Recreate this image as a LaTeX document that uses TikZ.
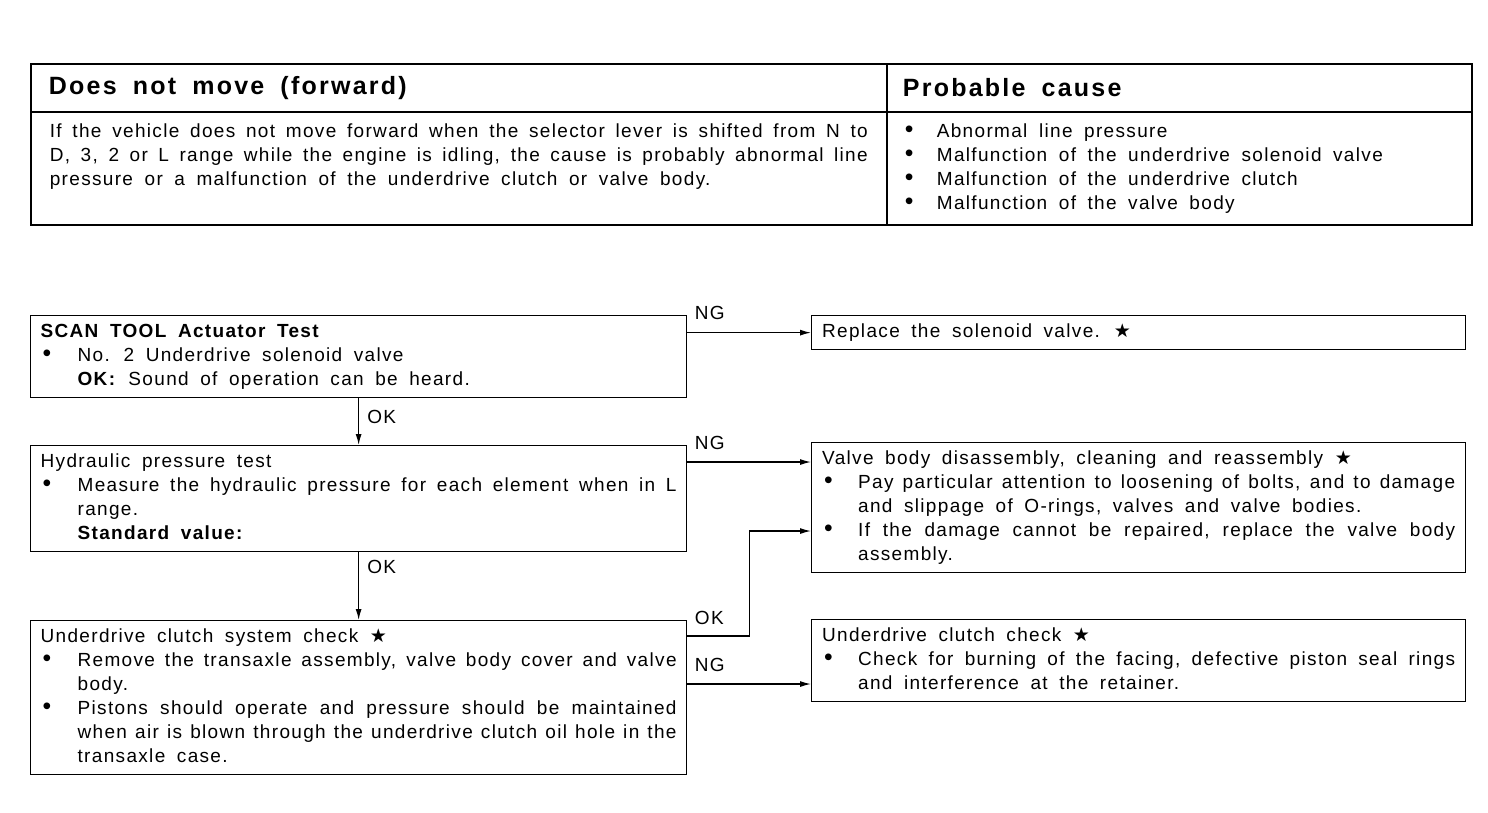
\documentclass[tikz,border=0pt]{standalone}
\usepackage{fontspec}
\setmainfont{Liberation Sans}[LetterSpace=7, WordSpace=1.75]
\newfontfamily\symfont{DejaVu Sans}
\usetikzlibrary{calc,arrows.meta,positioning}

\newcommand{\bodyfont}{\fontsize{19}{24}\selectfont}
\newcommand{\headfont}{\fontsize{25}{28}\selectfont\bfseries\addfontfeatures{LetterSpace=9}}
\newcommand{\bstar}{{\symfont ★}}
\newlength{\bulw}
\setlength{\bulw}{37pt}
% justified lines, full width or behind a bullet
\newcommand{\jf}[1]{\makebox[\linewidth][s]{#1}}
\newcommand{\jl}[1]{\makebox[\dimexpr\linewidth-\bulw][s]{#1}}
\newcommand{\bul}{\par\hangindent=\bulw\hangafter=1\noindent\makebox[\bulw][l]{\hspace{2pt}\scalebox{1.3}{\textbullet}}}

\begin{document}
\begin{tikzpicture}[x=1pt, y=-1pt,
    cell/.style={draw, line width=1.7pt, anchor=north west, inner sep=0pt},
    flowbox/.style={draw, line width=1.3pt, anchor=north west, inner xsep=10pt, inner ysep=5pt, font=\bodyfont},
    flow/.style={line width=1.3pt, -{Latex[length=11pt,width=6pt]}},
    lbl/.style={font=\bodyfont, inner sep=2pt}]

    \useasboundingbox (0,0) rectangle (1488,812);

    % Table: symptom and probable cause
    \node[cell, minimum width=856pt, minimum height=48pt] (hdL) at (30,63)
        {\parbox{820pt}{\headfont Does not move (forward)}};
    \node[cell, minimum width=585pt, minimum height=48pt] (hdR) at (886,63)
        {\parbox{553pt}{\headfont Probable cause}};
    \node[cell, minimum width=856pt, minimum height=113pt] (bdL) at (30,111)
        {\parbox[c][95pt][t]{818pt}{\bodyfont\strut
         \jf{If the vehicle does not move forward when the selector lever is shifted from N to}\newline
         \jf{D, 3, 2 or L range while the engine is idling, the cause is probably abnormal line}\newline
         pressure or a malfunction of the underdrive clutch or valve body.}};
    \node[cell, minimum width=585pt, minimum height=113pt] (bdR) at (886,111)
        {\parbox[c][95pt][t]{553pt}{\bodyfont\setlength{\bulw}{34pt}%
         \bul\strut Abnormal line pressure
         \bul Malfunction of the underdrive solenoid valve
         \bul Malfunction of the underdrive clutch
         \bul Malfunction of the valve body}};

    % Left column: checks
    \node[flowbox] (scan) at (30,315) {\parbox{636pt}{\strut\textbf{SCAN TOOL Actuator Test}
        \bul No. 2 Underdrive solenoid valve\newline
        \textbf{OK:}\hspace{12pt}Sound of operation can be heard.\strut}};
    \node[flowbox] (hyd) at (30,445) {\parbox{636pt}{\strut Hydraulic pressure test
        \bul\jl{Measure the hydraulic pressure for each element when in L}\newline
        range.\newline
        \textbf{Standard value:}\strut}};
    \node[flowbox] (udc) at (30,620) {\parbox{636pt}{\strut Underdrive clutch system check \bstar
        \bul\jl{Remove the transaxle assembly, valve body cover and valve}\newline
        body.
        \bul\jl{Pistons should operate and pressure should be maintained}\newline
        \jl{when air is blown through the underdrive clutch oil hole in the}\newline
        transaxle case.\strut}};

    % Right column: repairs
    \node[flowbox, inner xsep=10.5pt] (rep) at (811,315) {\parbox{633pt}{\strut Replace the solenoid valve. \bstar\strut}};
    \node[flowbox, inner xsep=10.5pt] (vb) at (811,442) {\parbox{633pt}{\setlength{\bulw}{36pt}%
        \strut Valve body disassembly, cleaning and reassembly \bstar
        \bul\jl{Pay particular attention to loosening of bolts, and to damage}\newline
        and slippage of O-rings, valves and valve bodies.
        \bul\jl{If the damage cannot be repaired, replace the valve body}\newline
        assembly.\strut}};
    \node[flowbox, inner xsep=10.5pt] (clu) at (811,619) {\parbox{633pt}{\setlength{\bulw}{36pt}%
        \strut Underdrive clutch check \bstar
        \bul\jl{Check for burning of the facing, defective piston seal rings}\newline
        and interference at the retainer.\strut}};

    % OK path down the left column
    \draw[flow] (scan.south) -- node[lbl, pos=0.4, right, xshift=6pt] {OK} (hyd.north);
    \draw[flow] (hyd.south) -- node[lbl, pos=0.22, right, xshift=6pt] {OK} (udc.north);

    % NG branches to the right
    \coordinate (hydng) at ([yshift=-17pt]hyd.north east);
    \coordinate (udcok) at ([yshift=-16pt]udc.north east);
    \coordinate (udcng) at ([yshift=-64pt]udc.north east);
    \coordinate (vbok) at ([yshift=-89pt]vb.north west);
    \draw[flow] (scan.east |- rep.west) node[lbl, anchor=south west, xshift=5pt, yshift=10pt] {NG} -- (rep.west);
    \draw[flow] (hydng) node[lbl, anchor=south west, xshift=5pt, yshift=10pt] {NG} -- (hydng -| vb.west);
    \draw[flow] (udcok) node[lbl, anchor=south west, xshift=5pt, yshift=9pt] {OK} -- ++(62,0) |- (vbok);
    \draw[flow] (udcng) node[lbl, anchor=south west, xshift=5pt, yshift=10pt] {NG} -- (udcng -| clu.west);
\end{tikzpicture}
\end{document}
